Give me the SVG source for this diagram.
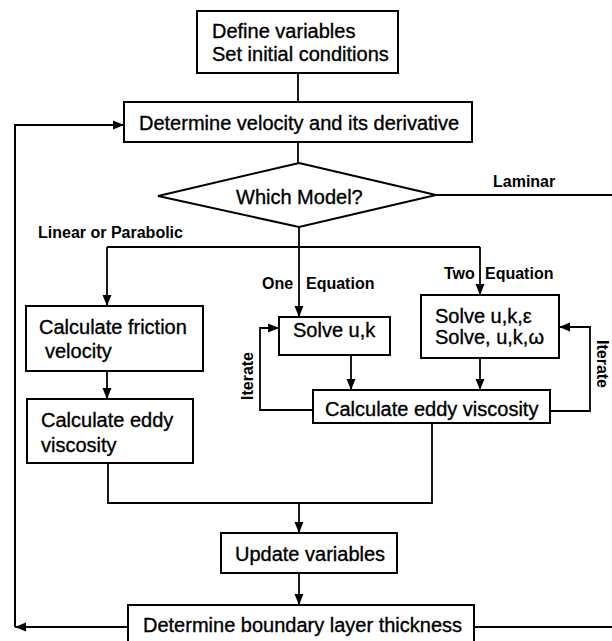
<svg xmlns="http://www.w3.org/2000/svg" width="612" height="641" viewBox="0 0 612 641">
<style>
.box{fill:#fff;stroke:#000;stroke-width:2}
.t{font-family:"Liberation Sans",Arial,sans-serif;font-size:20px;fill:#000;stroke:#000;stroke-width:0.35}
.lb{font-family:"Liberation Sans",Arial,sans-serif;font-size:16px;font-weight:bold;fill:#000}
.c{fill:none;stroke:#000;stroke-width:1.8}
</style>
<defs>
<marker id="ah" markerUnits="userSpaceOnUse" markerWidth="12" markerHeight="12" viewBox="0 0 12 12" refX="11" refY="6" orient="auto">
<path d="M0,1.5 L11,6 L0,10.5 Z" fill="#000"/>
</marker>
</defs>
<rect width="612" height="641" fill="#fff"/>
<g id="connectors">
<path class="c" d="M298,73 V102"/>
<path class="c" d="M298,142 V163"/>
<path class="c" d="M299,227 V317" marker-end="url(#ah)"/>
<path class="c" d="M107,247 H480"/>
<path class="c" d="M107,247 V306" marker-end="url(#ah)"/>
<path class="c" d="M480,247 V295" marker-end="url(#ah)"/>
<path class="c" d="M436,195 H612"/>
<path class="c" d="M107,371 V399" marker-end="url(#ah)"/>
<path class="c" d="M351,355 V390" marker-end="url(#ah)"/>
<path class="c" d="M480,358 V390" marker-end="url(#ah)"/>
<path class="c" d="M313,410 H260 V328 H279" marker-end="url(#ah)"/>
<path class="c" d="M550,411 H590 V327 H559" marker-end="url(#ah)"/>
<path class="c" d="M108,463 V503 H432 V423"/>
<path class="c" d="M299,503 V533" marker-end="url(#ah)"/>
<path class="c" d="M299,573 V605" marker-end="url(#ah)"/>
<path class="c" d="M128,627 H15" marker-end="url(#ah)"/>
<path class="c" style="stroke-width:2" d="M15,627 V125 H124" marker-end="url(#ah)"/>
<path class="c" d="M474,627 H612"/>
<text class="lb" x="493" y="187">Laminar</text>
<text class="lb" x="38" y="238">Linear or Parabolic</text>
<text class="lb" x="262" y="289">One</text>
<text class="lb" x="306" y="289">Equation</text>
<text class="lb" x="444" y="279">Two</text>
<text class="lb" x="485" y="279">Equation</text>
<text class="lb" text-anchor="middle" transform="translate(253,376) rotate(-90)">Iterate</text>
<text class="lb" text-anchor="middle" transform="translate(597,364) rotate(90)">Iterate</text>
</g>
<g id="define">
<rect class="box" x="197" y="11" width="201" height="62"/>
<text class="t" x="212" y="38">Define variables</text>
<text class="t" x="212" y="61">Set initial conditions</text>
</g>
<g id="velocity">
<rect class="box" x="124" y="102" width="348" height="40"/>
<text class="t" x="139" y="130">Determine velocity and its derivative</text>
</g>
<g id="model">
<polygon class="box" points="299,163 436,195 299,227 158,196"/>
<text class="t" x="236" y="204">Which Model?</text>
</g>
<g id="friction">
<rect class="box" x="26" y="306" width="177" height="65"/>
<text class="t" x="39" y="334">Calculate friction</text>
<text class="t" x="45" y="358">velocity</text>
</g>
<g id="eddy-left">
<rect class="box" x="27" y="399" width="166" height="64"/>
<text class="t" x="41" y="427">Calculate eddy</text>
<text class="t" x="41" y="452">viscosity</text>
</g>
<g id="solve-uk">
<rect class="box" x="279" y="317" width="111" height="38"/>
<text class="t" x="293" y="337">Solve u,k</text>
</g>
<g id="solve-two">
<rect class="box" x="421" y="295" width="138" height="63"/>
<text class="t" x="435" y="323">Solve u,k,ε</text>
<text class="t" x="435" y="344">Solve, u,k,ω</text>
</g>
<g id="eddy-right">
<rect class="box" x="313" y="390" width="237" height="33"/>
<text class="t" x="325" y="416">Calculate eddy viscosity</text>
</g>
<g id="update">
<rect class="box" x="221" y="533" width="176" height="40"/>
<text class="t" x="235" y="561">Update variables</text>
</g>
<g id="boundary">
<rect class="box" x="128" y="605" width="346" height="44"/>
<text class="t" x="143" y="632">Determine boundary layer thickness</text>
</g>
</svg>
